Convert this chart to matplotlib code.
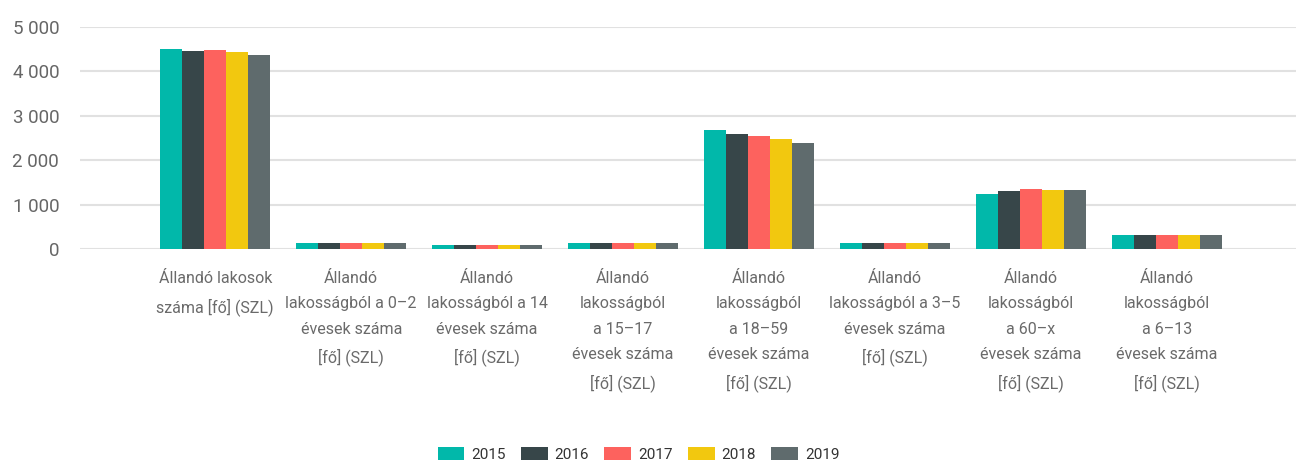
import numpy as np
import matplotlib
matplotlib.use('Agg')
import matplotlib.pyplot as plt

plt.rcParams['font.family'] = ['Roboto', 'DejaVu Sans']

# kategóriák és értékek (fő)
categories = [
    'Állandó lakosok\nszáma [fő] (SZL)',
    'Állandó\nlakosságból a 0–2\névesek száma\n[fő] (SZL)',
    'Állandó\nlakosságból a 14\névesek száma\n[fő] (SZL)',
    'Állandó\nlakosságból\na 15–17\névesek száma\n[fő] (SZL)',
    'Állandó\nlakosságból\na 18–59\névesek száma\n[fő] (SZL)',
    'Állandó\nlakosságból a 3–5\névesek száma\n[fő] (SZL)',
    'Állandó\nlakosságból\na 60–x\névesek száma\n[fő] (SZL)',
    'Állandó\nlakosságból\na 6–13\névesek száma\n[fő] (SZL)',
]
years = ['2015', '2016', '2017', '2018', '2019']
v2015 = [4510, 145, 90, 140, 2675, 140, 1245, 315]
v2016 = [4465, 145, 90, 140, 2585, 140, 1300, 315]
v2017 = [4475, 145, 90, 140, 2540, 140, 1345, 315]
v2018 = [4430, 145, 90, 140, 2485, 140, 1340, 315]
v2019 = [4375, 145, 90, 140, 2395, 140, 1340, 315]
series = [v2015, v2016, v2017, v2018, v2019]
colors = ['#01B8AA', '#374649', '#FD625E', '#F2C80F', '#5F6B6D']

fig = plt.figure(figsize=(12.96, 4.65), dpi=100)
ax = fig.add_axes([80 / 1296, (465 - 249) / 465, 1 - 80 / 1296, (249 - 27) / 465])

x = np.arange(len(categories))
w = 0.162
for j, (vals, c, yr) in enumerate(zip(series, colors, years)):
    ax.bar(x + (j - 2) * w, vals, width=w, color=c, label=yr, zorder=3)

ax.set_ylim(0, 5000)
ax.set_xlim(-0.995, 7.95)
ax.set_yticks([0, 1000, 2000, 3000, 4000, 5000])
ax.set_yticklabels(['0', '1 000', '2 000', '3 000', '4 000', '5 000'])
ax.set_xticks(x)
ax.set_xticklabels(categories, linespacing=1.85)
ax.tick_params(axis='y', length=0, pad=15, labelsize=13.5, labelcolor='#666666')
ax.tick_params(axis='x', length=0, pad=16, labelsize=11.5, labelcolor='#6a6a6a')
ax.grid(axis='y', color='#e1e1e1', linewidth=1.5, zorder=0)
for s in ax.spines.values():
    s.set_visible(False)

fig.legend(loc='center', bbox_to_anchor=(0.4927, 0.022), ncol=5, frameon=False,
           fontsize=11, handlelength=1.75, handleheight=0.9, handletextpad=0.45,
           columnspacing=1.0, borderpad=0, labelcolor='#333333')

plt.savefig('out.png', dpi=100)
